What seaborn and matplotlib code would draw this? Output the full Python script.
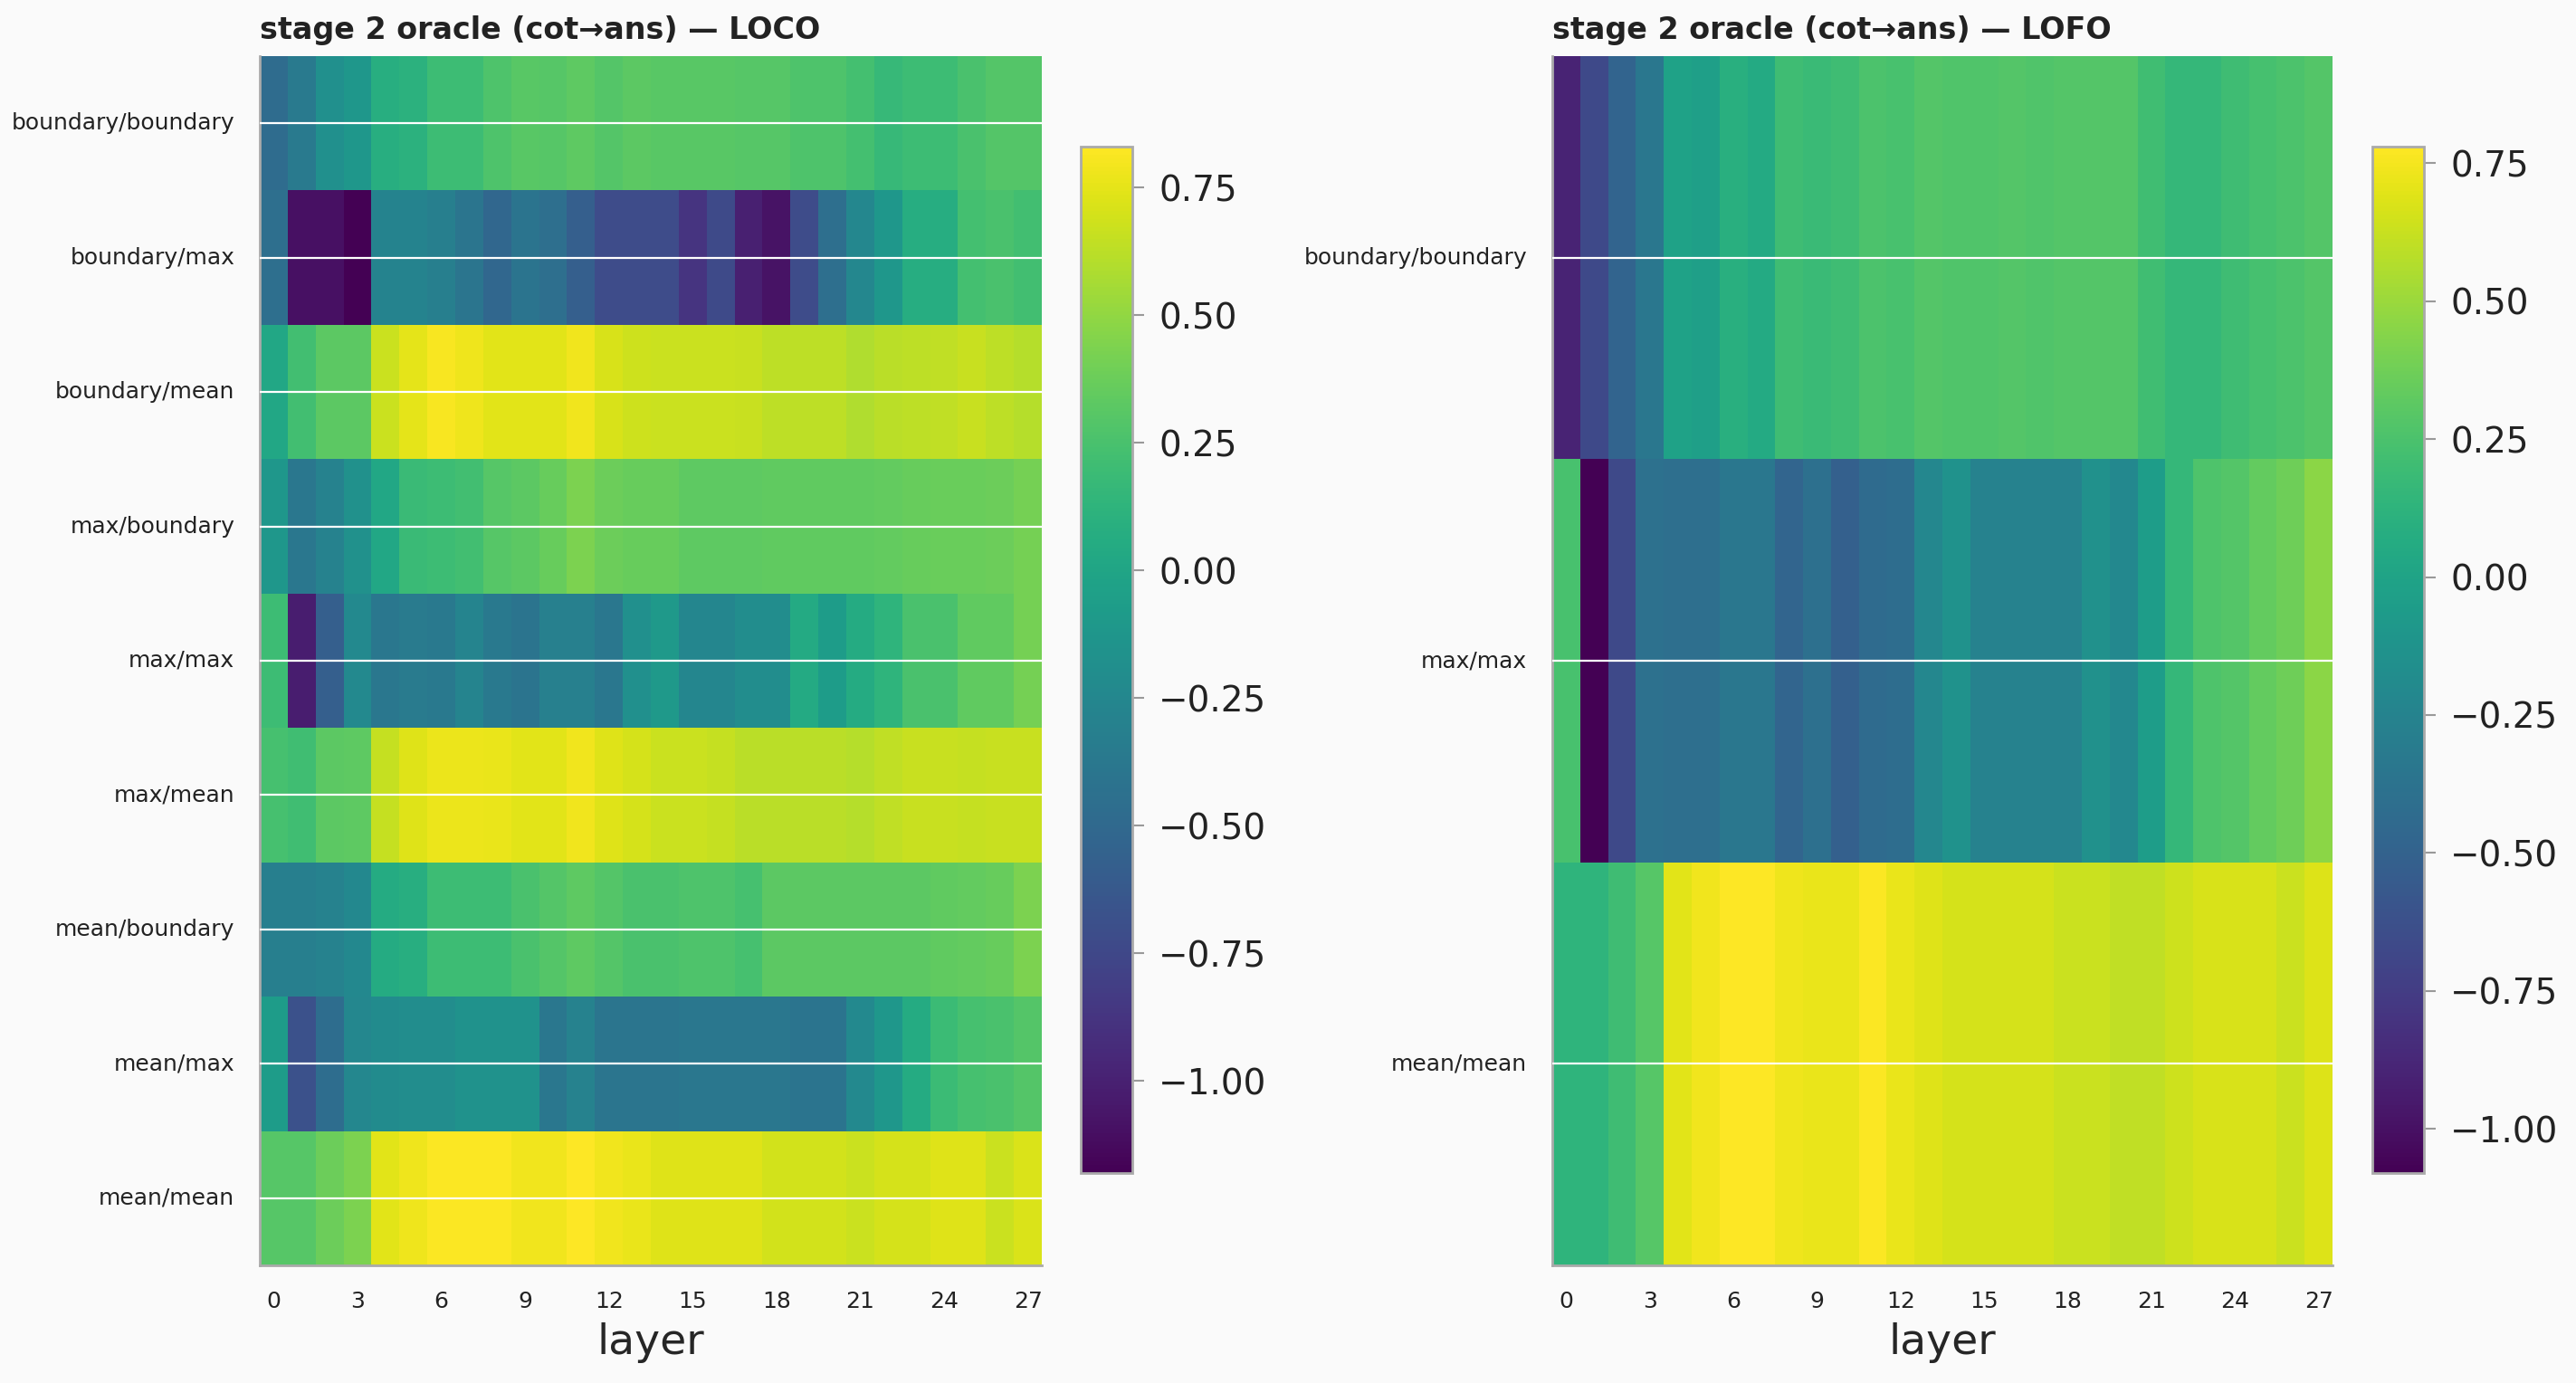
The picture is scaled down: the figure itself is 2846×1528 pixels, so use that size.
import numpy as np
import pandas as pd
import matplotlib
matplotlib.use("Agg")
import matplotlib.pyplot as plt
import seaborn as sns

# ---------------- data ----------------
layers = list(range(28))

loco_rows = ["boundary/boundary", "boundary/max", "boundary/mean",
             "max/boundary", "max/max", "max/mean",
             "mean/boundary", "mean/max", "mean/mean"]

loco_boundary_boundary = [-0.48, -0.36, -0.18, -0.12, 0.08, 0.10, 0.20, 0.20, 0.27, 0.31, 0.30, 0.33, 0.29, 0.32,
                          0.31, 0.31, 0.31, 0.30, 0.30, 0.27, 0.27, 0.23, 0.17, 0.20, 0.20, 0.25, 0.29, 0.29]
loco_boundary_max = [-0.45, -1.10, -1.10, -1.18, -0.28, -0.28, -0.32, -0.40, -0.52, -0.41, -0.45, -0.58, -0.72, -0.72,
                     -0.72, -0.88, -0.73, -1.00, -1.08, -0.72, -0.45, -0.25, -0.12, 0.07, 0.07, 0.23, 0.25, 0.22]
loco_boundary_mean = [0.02, 0.22, 0.32, 0.32, 0.67, 0.75, 0.81, 0.78, 0.74, 0.74, 0.74, 0.79, 0.71, 0.68,
                      0.67, 0.67, 0.67, 0.66, 0.63, 0.63, 0.63, 0.59, 0.62, 0.63, 0.64, 0.66, 0.63, 0.61]
loco_max_boundary = [-0.12, -0.38, -0.30, -0.17, 0.02, 0.18, 0.20, 0.22, 0.30, 0.32, 0.36, 0.43, 0.38, 0.36,
                     0.36, 0.33, 0.33, 0.33, 0.34, 0.34, 0.34, 0.34, 0.35, 0.36, 0.37, 0.37, 0.38, 0.41]
loco_max_max = [0.20, -1.02, -0.58, -0.23, -0.38, -0.35, -0.37, -0.27, -0.37, -0.41, -0.31, -0.31, -0.38, -0.18,
                -0.10, -0.26, -0.26, -0.20, -0.20, 0.04, -0.08, 0.05, 0.13, 0.25, 0.25, 0.34, 0.34, 0.41]
loco_max_mean = [0.24, 0.21, 0.32, 0.33, 0.65, 0.73, 0.77, 0.77, 0.76, 0.74, 0.74, 0.79, 0.73, 0.70,
                 0.67, 0.67, 0.65, 0.62, 0.62, 0.62, 0.62, 0.61, 0.64, 0.66, 0.66, 0.65, 0.66, 0.66]
loco_mean_boundary = [-0.32, -0.32, -0.30, -0.24, 0.05, 0.08, 0.20, 0.20, 0.20, 0.25, 0.29, 0.33, 0.29, 0.25,
                      0.25, 0.27, 0.27, 0.24, 0.32, 0.32, 0.32, 0.32, 0.32, 0.32, 0.34, 0.35, 0.36, 0.43]
loco_mean_max = [-0.08, -0.68, -0.47, -0.25, -0.22, -0.20, -0.20, -0.16, -0.16, -0.16, -0.38, -0.29, -0.40, -0.40,
                 -0.40, -0.38, -0.38, -0.38, -0.38, -0.41, -0.41, -0.23, -0.12, 0.05, 0.19, 0.24, 0.25, 0.29]
loco_mean_mean = [0.30, 0.30, 0.38, 0.43, 0.74, 0.78, 0.82, 0.82, 0.82, 0.79, 0.79, 0.83, 0.79, 0.76,
                  0.73, 0.73, 0.73, 0.73, 0.69, 0.69, 0.69, 0.67, 0.70, 0.70, 0.73, 0.73, 0.67, 0.72]

lofo_rows = ["boundary/boundary", "max/max", "mean/mean"]

lofo_boundary_boundary = [-0.90, -0.67, -0.49, -0.34, -0.01, -0.04, 0.09, 0.05, 0.20, 0.18, 0.20, 0.25, 0.24, 0.28,
                          0.27, 0.27, 0.28, 0.27, 0.28, 0.28, 0.28, 0.21, 0.16, 0.16, 0.20, 0.23, 0.25, 0.28]
lofo_max_max = [0.24, -1.08, -0.67, -0.39, -0.41, -0.41, -0.34, -0.34, -0.48, -0.40, -0.52, -0.44, -0.42, -0.22,
                -0.13, -0.26, -0.26, -0.26, -0.26, -0.15, -0.21, -0.05, 0.16, 0.26, 0.28, 0.33, 0.37, 0.46]
lofo_mean_mean = [0.13, 0.13, 0.20, 0.29, 0.70, 0.74, 0.78, 0.78, 0.73, 0.72, 0.72, 0.77, 0.72, 0.69,
                  0.66, 0.66, 0.66, 0.66, 0.63, 0.63, 0.60, 0.60, 0.64, 0.67, 0.67, 0.67, 0.63, 0.68]

cbar_ticks = [-1.0, -0.75, -0.5, -0.25, 0.0, 0.25, 0.5, 0.75]

# ---------------- styling ----------------
BG = "#fafafa"
sns.set_theme(style="white")
plt.rcParams.update({
    "font.family": ["DejaVu Sans"],
    "figure.facecolor": BG,
    "axes.facecolor": BG,
    "savefig.facecolor": BG,
    "text.color": "#222222",
    "xtick.color": "#999999",
    "ytick.color": "#999999",
    "xtick.labelcolor": "#222222",
    "ytick.labelcolor": "#222222",
})

loco_df = pd.DataFrame([loco_boundary_boundary, loco_boundary_max, loco_boundary_mean,
                        loco_max_boundary, loco_max_max, loco_max_mean,
                        loco_mean_boundary, loco_mean_max, loco_mean_mean],
                       index=loco_rows, columns=layers)
lofo_df = pd.DataFrame([lofo_boundary_boundary, lofo_max_max, lofo_mean_mean],
                       index=lofo_rows, columns=layers)

W, H = 2846, 1528
fig = plt.figure(figsize=(W / 100, H / 100), dpi=100)


def frac(x0, y0, x1, y1):
    return [x0 / W, 1 - y1 / H, (x1 - x0) / W, (y1 - y0) / H]


panels = [
    (loco_df, "stage 2 oracle (cot\u2192ans) \u2014 LOCO", frac(287, 62, 1151, 1398), frac(1194, 162, 1251, 1296)),
    (lofo_df, "stage 2 oracle (cot\u2192ans) \u2014 LOFO", frac(1715, 62, 2577, 1398), frac(2621, 162, 2678, 1296)),
]

for df, title, pos, cpos in panels:
    ax = fig.add_axes(pos)
    cax = fig.add_axes(cpos)
    sns.heatmap(df, ax=ax, cbar_ax=cax, cmap="viridis",
                xticklabels=3, yticklabels=True,
                cbar_kws={"ticks": cbar_ticks})
    ax.set_title(title, loc="left", fontsize=24, fontweight="bold", pad=14)
    ax.set_xlabel("layer", fontsize=34, labelpad=8)
    ax.set_ylabel("")
    ax.tick_params(axis="both", which="both", length=8, width=1.5, labelsize=18, pad=12)
    ax.tick_params(axis="y", labelrotation=0)
    ax.tick_params(axis="x", labelrotation=0)
    for sp in ["left", "bottom"]:
        ax.spines[sp].set_visible(True)
        ax.spines[sp].set_color("#aaaaaa")
        ax.spines[sp].set_linewidth(2)
    ax.grid(False)
    ax.grid(axis="y", color="white", linewidth=1.6)
    ax.set_axisbelow(False)

    cbar = ax.collections[0].colorbar
    cbar.outline.set_visible(True)
    cbar.outline.set_edgecolor("#aaaaaa")
    cbar.outline.set_linewidth(2)
    cax.tick_params(length=9, width=1.5, labelsize=28, pad=12, color="#999999")

fig.savefig("out.png", dpi=100)
